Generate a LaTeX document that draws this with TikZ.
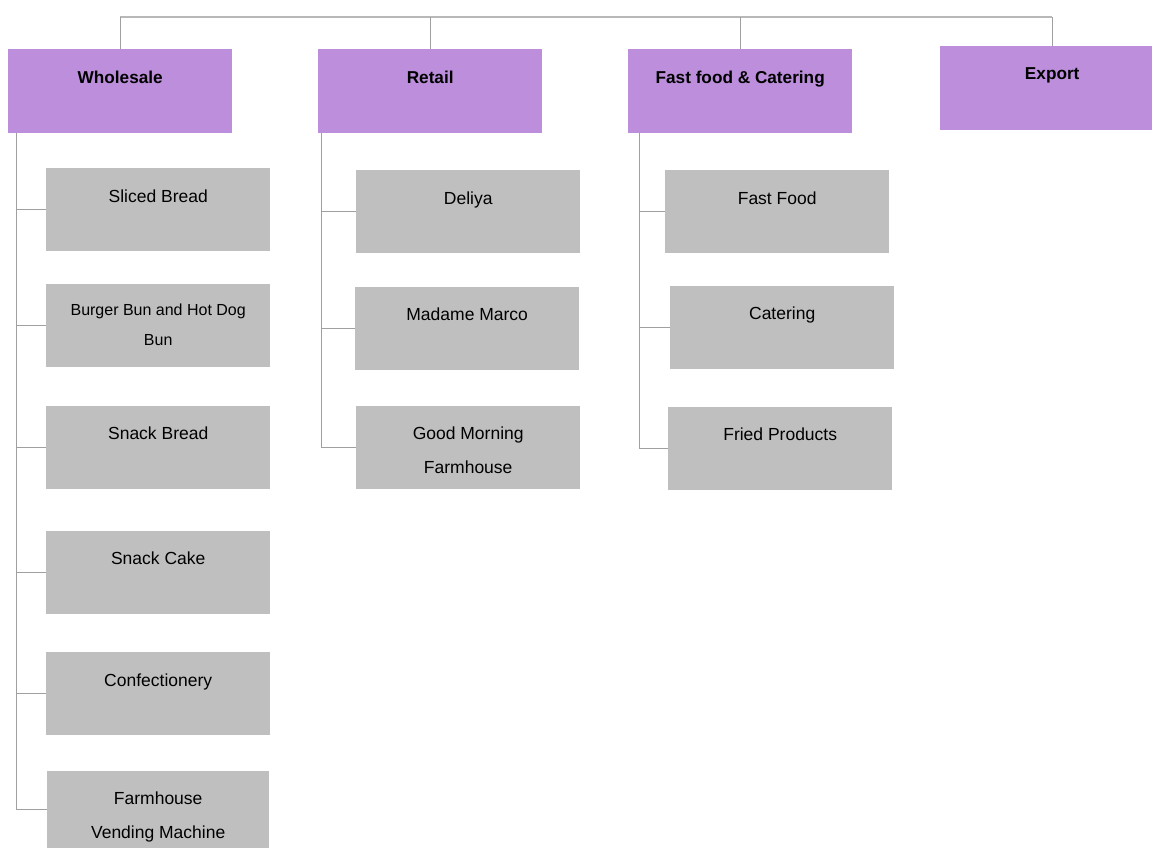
\documentclass[tikz,border=0pt]{standalone}
\usepackage{fontspec}
\setmainfont{Liberation Sans}
\definecolor{purp}{HTML}{BC8EDC}
\definecolor{grayb}{HTML}{BFBFBF}
\definecolor{linec}{HTML}{A0A0A0}
\definecolor{busc}{HTML}{B8B8B8}
\begin{document}
\begin{tikzpicture}[x=1pt,y=-1pt,
  catbox/.style={fill=purp, draw=none, inner sep=0, anchor=north west, minimum width=224, minimum height=84},
  itembox/.style={fill=grayb, draw=none, inner sep=0, anchor=north west, minimum width=224, minimum height=83},
  cattext/.style={inner sep=0, anchor=base, font=\bfseries\fontsize{17.2}{20}\selectfont},
  itemtext/.style={inner sep=0, anchor=base, font=\fontsize{17.5}{34}\selectfont},
  smalltext/.style={inner sep=0, anchor=base, font=\fontsize{16}{30}\selectfont},
  conn/.style={draw=linec, line width=1pt},
  busline/.style={draw=busc, line width=1.5pt}]
\path[use as bounding box, clip] (0,0) rectangle (1152,849);
\fill[white] (0,0) rectangle (1152,849);

% level 1
\node[catbox] (ws) at (8,49) {};
\node[catbox] (rt) at (318,49) {};
\node[catbox] (ff) at (628,49) {};
\node[catbox] (ex) at (940,46) {};
\node[cattext] (wst) at ([yshift=-34]ws.north) {Wholesale};
\node[cattext] (rtt) at ([yshift=-34]rt.north) {Retail};
\node[cattext] (fft) at ([yshift=-34]ff.north) {Fast food \& Catering};
\node[cattext] (ext) at ([yshift=-33]ex.north) {Export};

% top bus
\coordinate (bus) at (0,17);
\draw[busline] (ws.north |- bus) -- (ex.north |- bus);
\draw[conn] (ws.north) -- (ws.north |- bus);
\draw[conn] (rt.north) -- (rt.north |- bus);
\draw[conn] (ff.north) -- (ff.north |- bus);
\draw[conn] (ex.north) -- (ex.north |- bus);

% wholesale children
\node[itembox] (sb) at (46,168) {};
\node[itembox] (bb) at (46,284) {};
\node[itembox] (snb) at (46,406) {};
\node[itembox] (snc) at (46,531) {};
\node[itembox] (cf) at (46,652) {};
\node[itembox, minimum width=222, minimum height=77] (fv) at (47,771) {};
\node[itemtext] (sbt) at ([yshift=-34.5]sb.north) {Sliced Bread};
\node[smalltext] (bbt) at ([yshift=-31.7]bb.north) {\begin{tabular}[t]{@{}c@{}}Burger Bun and Hot Dog\\Bun\end{tabular}};
\node[itemtext] (snbt) at ([yshift=-33.3]snb.north) {Snack Bread};
\node[itemtext] (snct) at ([yshift=-33.3]snc.north) {Snack Cake};
\node[itemtext] (cft) at ([yshift=-34.3]cf.north) {Confectionery};
\node[itemtext] (fvt) at ([yshift=-33.3]fv.north) {\begin{tabular}[t]{@{}c@{}}Farmhouse\\Vending Machine\end{tabular}};

\coordinate (wsp) at ([xshift=8]ws.south west);
\draw[conn] (wsp) |- (fv.west);
\foreach \c in {sb,bb,snb,snc,cf} \draw[conn] (wsp |- \c.west) -- (\c.west);

% retail children
\node[itembox] (dl) at (356,170) {};
\node[itembox] (mm) at (355,287) {};
\node[itembox] (gm) at (356,406) {};
\node[itemtext] (dlt) at ([yshift=-34.3]dl.north) {Deliya};
\node[itemtext] (mmt) at ([yshift=-33.3]mm.north) {Madame Marco};
\node[itemtext] (gmt) at ([yshift=-33.3]gm.north) {\begin{tabular}[t]{@{}c@{}}Good Morning\\Farmhouse\end{tabular}};

\coordinate (rtp) at ([xshift=3]rt.south west);
\draw[conn] (rtp) |- (gm.west);
\foreach \c in {dl,mm} \draw[conn] (rtp |- \c.west) -- (\c.west);

% fast food children
\node[itembox] (fd) at (665,170) {};
\node[itembox] (ct) at (670,286) {};
\node[itembox] (fp) at (668,407) {};
\node[itemtext] (fdt) at ([yshift=-34.3]fd.north) {Fast Food};
\node[itemtext] (ctt) at ([yshift=-33.3]ct.north) {Catering};
\node[itemtext] (fpt) at ([yshift=-33.3]fp.north) {Fried Products};

\coordinate (ffp) at ([xshift=11]ff.south west);
\draw[conn] (ffp) |- (fp.west);
\foreach \c in {fd,ct} \draw[conn] (ffp |- \c.west) -- (\c.west);
\end{tikzpicture}
\end{document}
